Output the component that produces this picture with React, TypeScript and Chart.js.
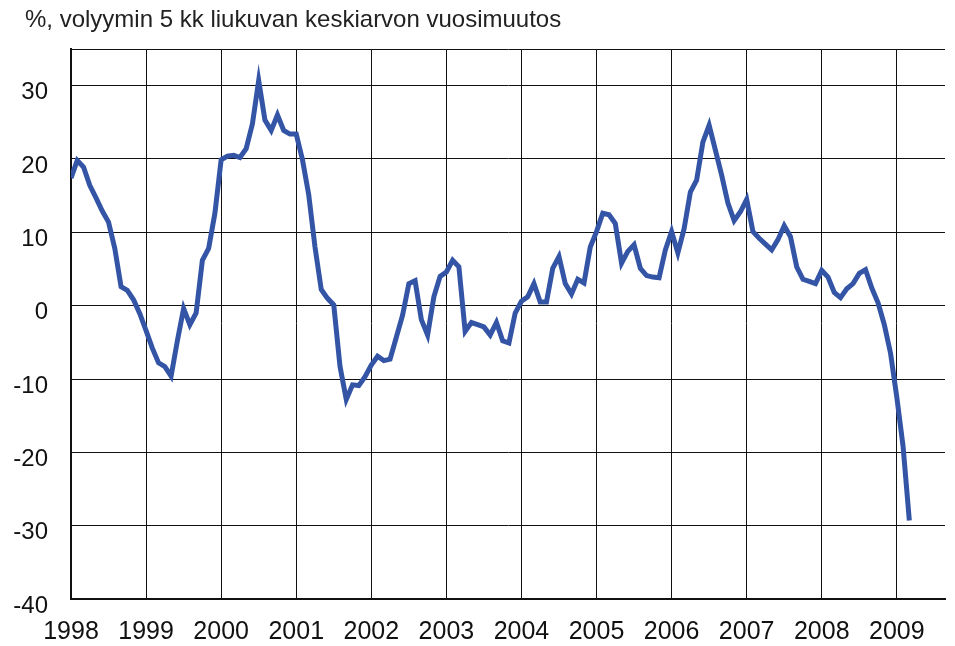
import React, { useEffect, useRef } from "react";
import { Chart, registerables } from "chart.js";

Chart.register(...registerables);

const titleText = "%, volyymin 5 kk liukuvan keskiarvon vuosimuutos";
const yearLabels = ["1998", "1999", "2000", "2001", "2002", "2003", "2004", "2005", "2006", "2007", "2008", "2009"];
const yTickValues = [-40, -30, -20, -10, 0, 10, 20, 30];
const yMin = -40;
const yMax = 35;
const monthsShown = 139.7;

// monthly values from Jan 1998
const values1998_2000 = [
  17.4, 19.8, 18.9, 16.4, 14.7, 12.9, 11.4, 7.8, 2.6, 2.1, 0.8, -1.1,
  -3.4, -5.8, -7.8, -8.3, -9.6, -4.8, -0.4, -2.6, -1.0, 6.2, 7.8, 12.6,
  19.9, 20.4, 20.5, 20.2, 21.4, 24.8, 30.7, 25.3, 23.9, 26.0, 23.9, 23.4,
];
const values2001_2003 = [
  23.4, 19.9, 15.1, 8.0, 2.2, 1.0, 0.1, -8.3, -12.8, -10.8, -10.9, -9.7,
  -8.1, -6.9, -7.5, -7.3, -4.3, -1.3, 3.0, 3.4, -1.9, -4.0, 1.2, 4.0,
  4.6, 6.2, 5.3, -3.5, -2.3, -2.6, -2.9, -4.0, -2.3, -4.8, -5.1, -1.0,
];
const values2004_2006 = [
  0.6, 1.2, 3.0, 0.5, 0.5, 5.1, 6.7, 3.0, 1.6, 3.6, 3.1, 8.0,
  10.1, 12.6, 12.4, 11.2, 5.8, 7.4, 8.3, 5.1, 4.1, 3.9, 3.8, 7.6,
  10.1, 7.2, 10.5, 15.5, 17.1, 22.3, 24.6, 21.2, 17.8, 14.0, 11.6, 12.8,
];
const values2007_2009 = [
  14.5, 10.1, 9.2, 8.4, 7.6, 9.0, 10.9, 9.4, 5.3, 3.6, 3.3, 3.0,
  4.8, 3.9, 1.8, 1.1, 2.3, 3.0, 4.4, 4.9, 2.4, 0.4, -2.6, -6.5,
  -12.5, -19.2, -29.3,
];
const values = [...values1998_2000, ...values2001_2003, ...values2004_2006, ...values2007_2009];

const FONT = "'Liberation Sans', Arial, sans-serif";

const titlePlugin = {
  id: "leftTitle",
  afterDraw(chart: any) {
    const ctx = chart.ctx;
    ctx.save();
    ctx.font = `24px ${FONT}`;
    ctx.fillStyle = "#222";
    ctx.textAlign = "left";
    ctx.textBaseline = "middle";
    ctx.fillText(titleText, 25, 20);
    ctx.restore();
  },
};

export default function App() {
  const ref = useRef<HTMLCanvasElement | null>(null);

  useEffect(() => {
    if (!ref.current) return;
    const chart = new Chart(ref.current, {
      type: "line",
      data: {
        datasets: [
          {
            data: values.map((v, i) => ({ x: i, y: v })),
            borderColor: "#3455a6",
            borderWidth: 5,
            pointRadius: 0,
            tension: 0,
            fill: false,
            borderJoinStyle: "miter",
          },
        ],
      },
      plugins: [titlePlugin],
      options: {
        animation: false,
        responsive: false,
        maintainAspectRatio: false,
        layout: { padding: { left: 0, right: 10, top: 49, bottom: 0 } },
        plugins: {
          legend: { display: false },
          tooltip: { enabled: false },
          title: { display: false },
        },
        scales: {
          x: {
            type: "linear",
            min: 0,
            max: monthsShown,
            afterBuildTicks: (scale: any) => {
              scale.ticks = yearLabels.map((_, i) => ({ value: i * 12 }));
            },
            afterFit: (scale: any) => {
              scale.height = 47;
            },
            ticks: {
              autoSkip: false,
              maxRotation: 0,
              padding: 18,
              color: "#111",
              font: { family: FONT, size: 25 },
              callback: (v: any) => yearLabels[Math.round(Number(v) / 12)] ?? "",
            },
            grid: { color: "#111", lineWidth: 1, drawTicks: false },
            border: { color: "#111", width: 2 },
          },
          y: {
            type: "linear",
            min: yMin,
            max: yMax,
            afterBuildTicks: (scale: any) => {
              scale.ticks = [...yTickValues, yMax].map((v) => ({ value: v }));
            },
            afterFit: (scale: any) => {
              scale.width = 71;
            },
            ticks: {
              autoSkip: false,
              padding: 23,
              labelOffset: 7,
              color: "#111",
              font: { family: FONT, size: 24 },
              callback: (v: any) => (Number(v) === yMax ? "" : String(v)),
            },
            grid: { color: "#111", lineWidth: 1, drawTicks: false },
            border: { color: "#111", width: 2 },
          },
        },
      },
    });
    return () => chart.destroy();
  }, []);

  return (
    <div style={{ position: "fixed", left: 0, top: 0, width: 955, height: 646, background: "#fff" }}>
      <canvas ref={ref} width={955} height={646} style={{ display: "block" }} />
    </div>
  );
}
